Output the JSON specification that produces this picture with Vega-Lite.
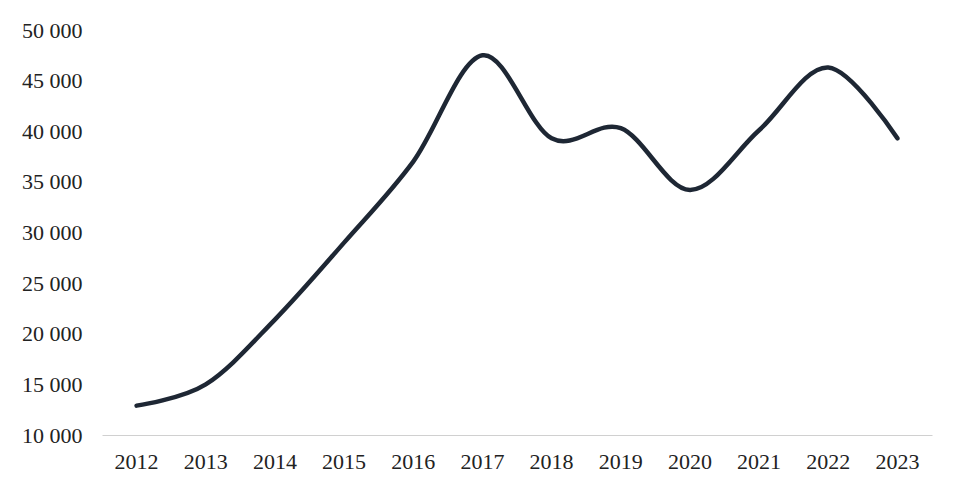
{
  "$schema": "https://vega.github.io/schema/vega-lite/v6.json",
  "width": 830,
  "height": 405,
  "autosize": "none",
  "padding": {"left": 102, "top": 30, "right": 28, "bottom": 59},
  "background": "white",
  "data": {"values": [
    {"year": "2012", "value": 12900},
    {"year": "2013", "value": 15000},
    {"year": "2014", "value": 21400},
    {"year": "2015", "value": 29000},
    {"year": "2016", "value": 37000},
    {"year": "2017", "value": 47500},
    {"year": "2018", "value": 39300},
    {"year": "2019", "value": 40300},
    {"year": "2020", "value": 34200},
    {"year": "2021", "value": 40100},
    {"year": "2022", "value": 46300},
    {"year": "2023", "value": 39300}
  ]},
  "mark": {"type": "line", "interpolate": "cardinal", "color": "#1e2734", "strokeWidth": 4.5, "strokeCap": "round"},
  "encoding": {
    "x": {"field": "year", "type": "ordinal", "scale": {"type": "band", "paddingInner": 0, "paddingOuter": 0},
      "axis": {"title": null, "labelAngle": 0, "ticks": false, "domainColor": "#d0d0d0", "domainWidth": 1, "labelFont": "Liberation Serif", "labelFontSize": 22, "labelColor": "#222", "labelPadding": 16}},
    "y": {"field": "value", "type": "quantitative", "scale": {"domain": [10000, 50000], "nice": false, "zero": false},
      "axis": {"title": null, "values": [10000,15000,20000,25000,30000,35000,40000,45000,50000], "grid": false, "domain": false, "ticks": false, "labelFont": "Liberation Serif", "labelFontSize": 22, "labelColor": "#222", "labelPadding": 20,
        "labelExpr": "replace(format(datum.value, ','), ',', ' ')"}}
  },
  "config": {"view": {"stroke": null}}
}
